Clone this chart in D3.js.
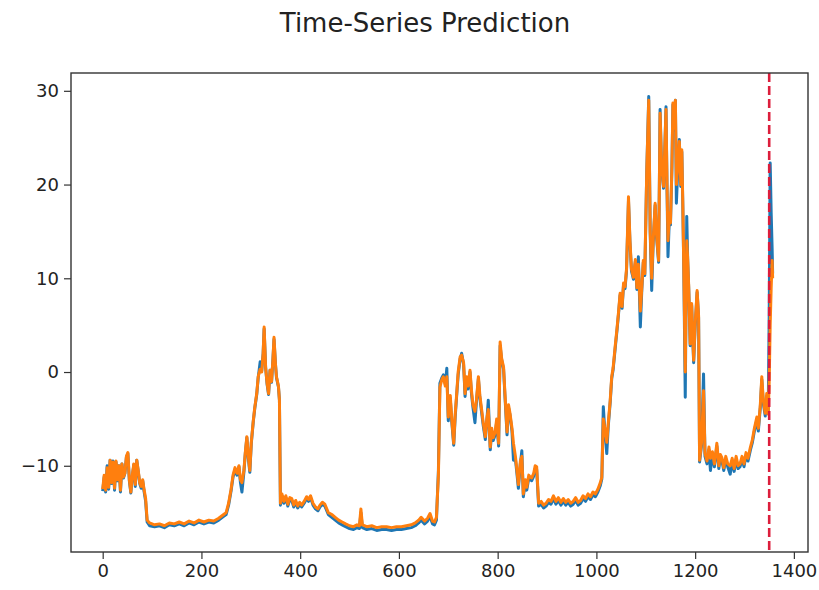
<!DOCTYPE html>
<html>
<head>
<meta charset="utf-8">
<script src="https://cdn.jsdelivr.net/npm/d3@7"></script>
<style>
  body { margin: 0; background: #fff; }
  svg text { font-family: "DejaVu Sans", sans-serif; fill: #222; }
</style>
</head>
<body>
<div id="chart"></div>
<script>
// time steps
const steps = [
  0, 3, 6, 9, 12, 15, 18, 21, 24, 27,
  30, 33, 36, 39, 42, 45, 48, 51, 54, 57,
  60, 63, 66, 69, 72, 75, 78, 81, 84, 87,
  90, 95, 105, 115, 125, 135, 145, 155, 165, 175,
  185, 195, 205, 215, 225, 235, 245, 250, 255, 260,
  264, 268, 272, 276, 279, 282, 286, 289, 292, 295,
  298, 301, 305, 308, 312, 315, 319, 322, 325, 327,
  330, 333, 336, 339, 342, 345, 347, 350, 352, 356,
  358, 360, 363, 367, 371, 375, 379, 383, 387, 391,
  395, 399, 403, 408, 413, 417, 421, 426, 431, 436,
  440, 445, 450, 457, 464, 471, 478, 485, 492, 500,
  508, 515, 520, 523, 526, 535, 545, 555, 565, 575,
  585, 595, 605, 615, 625, 633, 640, 645, 652, 658,
  663, 668, 672, 676, 680, 683, 687, 690, 694, 697,
  700, 704, 707, 711, 714, 717, 720, 724, 727, 731,
  734, 737, 740, 744, 747, 750, 754, 757, 761, 764,
  768, 771, 775, 778, 781, 785, 788, 791, 795, 798,
  802, 805, 808, 812, 815, 819, 822, 825, 829, 832,
  836, 839, 842, 846, 849, 852, 856, 859, 863, 866,
  869, 873, 876, 879, 883, 888, 893, 898, 903, 908,
  913, 918, 923, 928, 933, 938, 943, 948, 953, 958,
  963, 968, 973, 978, 983, 988, 993, 998, 1003, 1008,
  1011, 1014, 1017, 1021, 1024, 1028, 1031, 1034, 1038, 1042,
  1045, 1048, 1052, 1055, 1058, 1061, 1065, 1068, 1071, 1075,
  1079, 1082, 1085, 1089, 1092, 1095, 1098, 1102, 1106, 1109,
  1112, 1115, 1119, 1122, 1126, 1129, 1132, 1136, 1138, 1141,
  1143, 1145, 1148, 1150, 1153, 1155, 1158, 1160, 1162, 1165,
  1168, 1171, 1173, 1175, 1177, 1180, 1183, 1185, 1187, 1190,
  1193, 1195, 1197, 1200, 1204, 1207, 1209, 1213, 1217, 1220,
  1224, 1228, 1231, 1235, 1239, 1244, 1248, 1251, 1254, 1258,
  1262, 1266, 1271, 1275, 1279, 1283, 1287, 1291, 1295, 1299,
  1303, 1307, 1312, 1316, 1320, 1325, 1328, 1332, 1335, 1338,
  1342, 1345, 1348, 1350, 1352, 1354, 1356, 1357
];

// blue line (actual)
const actual = [
  -12.7, -11.2, -12.8, -10.0, -12.5, -9.4, -11.9, -9.5, -12.6, -9.6,
  -11.6, -10.0, -12.8, -9.8, -11.3, -10.8, -9.1, -8.7, -11.6, -12.9,
  -11.1, -9.9, -12.2, -9.4, -10.6, -11.9, -12.4, -11.6, -12.8, -13.8,
  -16.0, -16.4, -16.5, -16.4, -16.6, -16.3, -16.4, -16.2, -16.4, -16.1,
  -16.3, -16.0, -16.2, -16.0, -16.1, -15.8, -15.4, -15.2, -14.2, -12.7,
  -11.2, -10.4, -11.0, -10.1, -11.8, -12.8, -10.7, -8.6, -7.0, -9.2,
  -10.7, -7.6, -5.3, -3.9, -2.4, -0.6, 1.1, 0.1, 2.0, 4.6,
  0.5, -1.3, -2.4, 0.2, -1.1, 1.5, 3.5, 0.8, -0.6, -1.6,
  -3.0, -14.2, -13.2, -14.0, -13.4, -14.3, -13.6, -13.7, -14.4, -13.9,
  -14.5, -14.1, -14.4, -14.0, -13.5, -13.8, -13.4, -14.2, -14.6, -14.8,
  -14.4, -14.1, -14.3, -15.2, -15.5, -15.8, -16.1, -16.3, -16.5, -16.7,
  -16.8, -16.6, -16.7, -15.0, -16.6, -16.8, -16.7, -16.9, -16.8, -16.8,
  -16.9, -16.8, -16.8, -16.7, -16.6, -16.4, -16.1, -15.8, -16.2, -15.9,
  -15.4, -16.2, -16.3, -15.8, -10.5, -1.2, -0.6, -0.3, -1.3, 0.4,
  -5.2, -2.8, -5.3, -7.8, -4.8, -2.5, -0.3, 1.4, 2.0, 0.8,
  -2.6, -0.7, -1.8, 0.0, -2.3, -3.8, -5.4, -3.2, -0.7, -2.8,
  -4.5, -5.8, -7.2, -5.3, -3.0, -8.3, -6.3, -7.3, -6.7, -5.3,
  -7.9, 2.8, 1.3, 0.3, -2.8, -6.7, -3.8, -4.6, -6.3, -9.4,
  -9.3, -10.8, -12.4, -9.8, -8.4, -13.3, -11.8, -12.6, -11.3, -11.5,
  -11.6, -11.1, -10.3, -10.4, -14.3, -14.1, -14.5, -14.3, -13.9, -14.1,
  -13.5, -14.1, -13.7, -14.2, -13.8, -14.2, -13.9, -14.3, -14.1, -13.7,
  -14.2, -14.0, -13.5, -13.8, -13.3, -13.6, -13.1, -13.3, -12.8, -12.1,
  -11.4, -3.7, -6.3, -8.7, -5.8, -3.2, -0.7, 0.3, 2.5, 4.6,
  6.3, 8.2, 6.8, 9.3, 8.9, 10.8, 18.3, 13.8, 10.8, 9.9,
  11.8, 8.8, 12.3, 4.8, 8.8, 11.7, 10.3, 21.3, 29.4, 14.8,
  8.7, 13.8, 17.8, 14.3, 11.7, 28.0, 21.8, 19.6, 22.8, 28.3,
  19.8, 12.3, 16.8, 15.7, 21.8, 28.5, 25.8, 29.0, 18.0, 21.8,
  24.8, 19.8, 23.5, 17.8, 11.0, -2.7, 16.6, 11.8, 8.9, 2.8,
  7.1, 3.8, 1.0, 4.8, 8.5, 5.8, -9.6, -7.8, -0.2, -9.0,
  -9.8, -8.3, -10.5, -8.8, -10.1, -7.9, -10.3, -9.1, -9.4, -10.5,
  -9.3, -10.1, -10.9, -9.5, -10.6, -9.3, -10.3, -10.1, -9.3, -10.1,
  -8.9, -9.5, -8.3, -7.5, -6.3, -5.1, -6.3, -3.8, -0.8, -3.3,
  -4.7, -2.6, -4.2, 6.0, 22.3, 17.0, 13.0, 10.5
];

// orange line (predicted)
const predicted = [
  -12.5, -11.0, -12.6, -10.2, -12.3, -9.4, -11.8, -9.6, -12.4, -9.5,
  -11.5, -10.0, -12.6, -9.8, -11.2, -10.8, -9.0, -8.6, -11.5, -12.8,
  -11.0, -9.8, -12.0, -9.4, -10.5, -11.8, -12.2, -11.5, -12.6, -13.5,
  -15.8, -16.1, -16.3, -16.2, -16.4, -16.1, -16.2, -16.0, -16.2, -15.9,
  -16.1, -15.8, -16.0, -15.8, -15.9, -15.6, -15.2, -15.0, -14.0, -12.5,
  -11.0, -10.2, -10.8, -10.0, -11.5, -11.8, -10.5, -8.5, -6.9, -9.0,
  -10.5, -7.5, -5.2, -3.8, -2.3, -0.5, 0.3, 0.0, 2.0, 4.8,
  0.5, -1.2, -2.3, 0.2, -1.0, 1.5, 3.7, 0.8, -0.5, -1.5,
  -3.0, -14.0, -13.0, -13.8, -13.2, -14.1, -13.4, -13.5, -14.2, -13.7,
  -14.3, -13.9, -14.2, -13.8, -13.3, -13.6, -13.2, -14.0, -14.4, -14.6,
  -14.2, -13.9, -14.1, -15.0, -15.2, -15.5, -15.8, -16.0, -16.2, -16.4,
  -16.5, -16.3, -16.4, -14.6, -16.3, -16.5, -16.4, -16.6, -16.5, -16.5,
  -16.6, -16.5, -16.5, -16.4, -16.3, -16.1, -15.8, -15.5, -15.9, -15.6,
  -15.1, -15.9, -16.0, -15.5, -11.0, -1.6, -0.8, -0.5, -1.5, -0.5,
  -4.8, -2.5, -5.0, -7.6, -4.5, -2.3, 0.0, 1.6, 1.8, 1.0,
  -2.3, -0.5, -1.5, 0.2, -2.0, -3.5, -4.2, -3.0, -0.5, -2.5,
  -4.2, -5.5, -6.9, -5.0, -4.0, -8.0, -6.0, -7.0, -6.4, -5.0,
  -7.6, 3.2, 1.5, 0.5, -2.5, -6.4, -3.5, -4.4, -6.0, -7.6,
  -9.0, -10.5, -12.0, -9.5, -9.0, -13.0, -11.5, -12.3, -11.0, -11.2,
  -11.3, -10.8, -10.0, -10.1, -14.0, -13.8, -14.2, -14.0, -13.6, -13.8,
  -13.2, -13.8, -13.4, -13.9, -13.5, -13.9, -13.6, -14.0, -13.8, -13.4,
  -13.9, -13.7, -13.2, -13.5, -13.0, -13.3, -12.8, -13.0, -12.5, -11.8,
  -11.2, -5.0, -6.0, -7.5, -5.5, -3.0, -0.5, 0.5, 2.7, 4.8,
  6.5, 8.4, 7.0, 9.5, 9.1, 11.0, 18.7, 14.0, 11.0, 10.1,
  12.0, 9.0, 11.5, 6.5, 9.0, 11.9, 10.5, 21.5, 29.0, 15.0,
  10.0, 14.0, 18.0, 14.5, 11.9, 27.6, 22.0, 19.8, 23.0, 28.0,
  20.0, 14.0, 17.0, 15.9, 22.0, 28.7, 26.0, 29.0, 20.0, 22.0,
  24.6, 20.0, 23.7, 18.0, 11.2, 0.0, 14.0, 12.0, 9.1, 3.0,
  7.3, 4.0, 1.25, 5.0, 8.7, 6.0, -9.4, -7.5, -2.0, -8.7,
  -9.5, -8.0, -9.2, -8.5, -9.8, -7.6, -10.0, -8.8, -9.1, -10.2,
  -9.0, -9.8, -10.0, -9.2, -10.3, -9.0, -10.0, -9.8, -9.0, -9.8,
  -8.6, -9.2, -8.0, -7.2, -6.0, -4.8, -6.0, -3.5, -0.5, -3.0,
  -4.4, -2.3, -4.5, -1.0, 5.0, 9.0, 11.9, 10.0
];

const splitAt = 1350;
const xTicks = [0, 200, 400, 600, 800, 1000, 1200, 1400];
const yTicks = [-10, 0, 10, 20, 30];

var w = 819;
var h = 590;
var margin = { top: 73, right: 11, bottom: 38, left: 71 };

var svg = d3.select("#chart").append("svg")
    .attr("width", w)
    .attr("height", h);

var x = d3.scaleLinear()
    .domain([-64.2, 1428.6])
    .range([margin.left, w - margin.right]);

var y = d3.scaleLinear()
    .domain([-19.2, 31.9])
    .range([h - margin.bottom, margin.top]);

var line = function(vals) {
    return d3.line()
        .x(function(d, i) { return x(steps[i]); })
        .y(function(d) { return y(d); })(vals);
};

svg.append("path")
    .attr("d", line(actual))
    .attr("fill", "none")
    .attr("stroke", "#1f77b4")
    .attr("stroke-width", 3)
    .attr("stroke-linejoin", "round");

svg.append("path")
    .attr("d", line(predicted))
    .attr("fill", "none")
    .attr("stroke", "#ff7f0e")
    .attr("stroke-width", 3)
    .attr("stroke-linejoin", "round");

svg.append("line")
    .attr("x1", x(splitAt))
    .attr("x2", x(splitAt))
    .attr("y1", margin.top)
    .attr("y2", h - margin.bottom)
    .attr("stroke", "#dc1e3c")
    .attr("stroke-width", 2.6)
    .attr("stroke-dasharray", "9,4");

var xAxis = d3.axisBottom(x).tickValues(xTicks).tickFormat(d3.format("d")).tickSize(7).tickPadding(5);
var yAxis = d3.axisLeft(y).tickValues(yTicks).tickFormat(d3.format("d")).tickSize(7).tickPadding(5);

svg.append("g")
    .attr("transform", "translate(0," + (h - margin.bottom) + ")")
    .call(xAxis);

svg.append("g")
    .attr("transform", "translate(" + margin.left + ",0)")
    .call(yAxis);

svg.selectAll(".tick line").attr("stroke", "#333").attr("stroke-width", 1.2);
svg.selectAll(".domain").remove();
svg.selectAll(".tick text")
    .style("font-size", "18px")
    .style("font-family", "DejaVu Sans, sans-serif")
    .attr("fill", "#222");

// frame
svg.append("rect")
    .attr("x", margin.left)
    .attr("y", margin.top)
    .attr("width", w - margin.left - margin.right)
    .attr("height", h - margin.top - margin.bottom)
    .attr("fill", "none")
    .attr("stroke", "#333")
    .attr("stroke-width", 1.4);

svg.append("text")
    .attr("x", 425)
    .attr("y", 32)
    .attr("text-anchor", "middle")
    .style("font-size", "26px")
    .text("Time-Series Prediction");
</script>
</body>
</html>
